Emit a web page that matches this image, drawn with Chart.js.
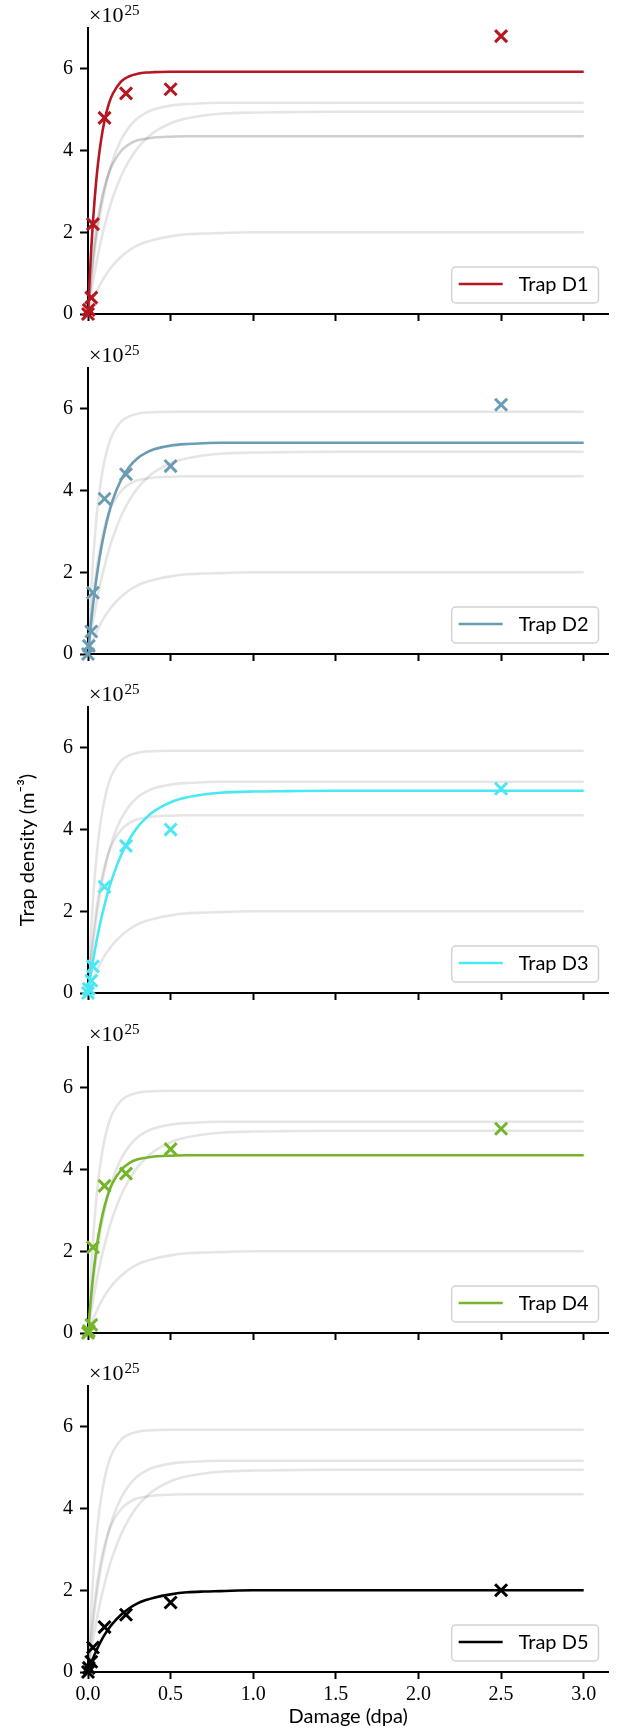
<!DOCTYPE html>
<html>
<head>
<meta charset="utf-8">
<script src="https://cdn.jsdelivr.net/npm/chart.js@4.4.0/dist/chart.umd.min.js"></script>
<style>
  html, body { margin: 0; padding: 0; background: #fff; }
  #figure { position: relative; width: 620px; height: 1736px; overflow: hidden; }
  .panneau { position: absolute; left: 0; }
</style>
</head>
<body>
<div id="figure"></div>
<script>
// Abscisses des courbes ajustées (dpa)
const damageFit = [0, 0.005, 0.01, 0.02, 0.03, 0.04, 0.05, 0.06, 0.08, 0.1, 0.125, 0.15, 0.2, 0.25, 0.3, 0.35, 0.4, 0.5, 0.6, 0.7, 0.8, 1.0, 1.2, 1.5, 2.0, 2.5, 3.0];

// Courbes ajustées (x1e25 m^-3)
const fitD1 = [0, 0.46, 0.88, 1.62, 2.26, 2.80, 3.27, 3.66, 4.28, 4.73, 5.13, 5.39, 5.69, 5.82, 5.88, 5.91, 5.92, 5.93, 5.93, 5.93, 5.93, 5.93, 5.93, 5.93, 5.93, 5.93, 5.93];
const fitD2 = [0, 0.22, 0.43, 0.83, 1.19, 1.52, 1.82, 2.10, 2.59, 3.00, 3.43, 3.77, 4.26, 4.58, 4.79, 4.92, 5.01, 5.10, 5.14, 5.16, 5.17, 5.17, 5.17, 5.17, 5.17, 5.17, 5.17];
const fitD3 = [0, 0.14, 0.27, 0.53, 0.78, 1.01, 1.23, 1.44, 1.82, 2.15, 2.53, 2.85, 3.37, 3.76, 4.06, 4.28, 4.45, 4.67, 4.79, 4.86, 4.90, 4.93, 4.94, 4.95, 4.95, 4.95, 4.95];
const fitD4 = [0, 0.26, 0.51, 0.96, 1.36, 1.71, 2.02, 2.30, 2.75, 3.10, 3.44, 3.68, 3.99, 4.16, 4.25, 4.29, 4.32, 4.34, 4.35, 4.35, 4.35, 4.35, 4.35, 4.35, 4.35, 4.35, 4.35];
const fitD5 = [0, 0.06, 0.12, 0.23, 0.33, 0.43, 0.52, 0.61, 0.77, 0.91, 1.06, 1.19, 1.40, 1.56, 1.68, 1.76, 1.82, 1.90, 1.95, 1.97, 1.98, 2.0, 2.0, 2.0, 2.0, 2.0, 2.0];

// Mesures expérimentales
const damageExp = [0, 0.005, 0.02, 0.03, 0.1, 0.23, 0.5, 2.5];
const expD1 = [0, 0.1, 0.4, 2.2, 4.8, 5.4, 5.5, 6.8];
const expD2 = [0, 0.2, 0.55, 1.5, 3.8, 4.4, 4.6, 6.1];
const expD3 = [0, 0.1, 0.3, 0.65, 2.6, 3.6, 4.0, 5.0];
const expD4 = [0, 0.05, 0.2, 2.1, 3.6, 3.9, 4.5, 5.0];
const expD5 = [0, 0.1, 0.25, 0.6, 1.1, 1.4, 1.7, 2.0];

const trapNames = ['Trap D1', 'Trap D2', 'Trap D3', 'Trap D4', 'Trap D5'];
const damageTicks = [0, 0.5, 1.0, 1.5, 2.0, 2.5, 3.0];
const densityTicks = [0, 2, 4, 6];

const fitSeries = [fitD1, fitD2, fitD3, fitD4, fitD5];
const expSeries = [expD1, expD2, expD3, expD4, expD5];

// Style
const couleurs = ['#b5161f', '#6a9db3', '#4ae8f2', '#75b52b', '#000000'];
const gris = 'rgba(0, 0, 0, 0.1)';
const serif = '"Liberation Serif", "DejaVu Serif", serif';
const sans = 'Lato, "DejaVu Sans", sans-serif';
const hauts = [0, 340, 679, 1019, 1358];

function points(xs, ys) {
  return xs.map((x, i) => ({ x: x, y: ys[i] }));
}

// Boîte de légende en bas à droite
const legendeBoite = {
  id: 'legendeBoite',
  afterDraw(chart, args, opts) {
    const { ctx, chartArea } = chart;
    ctx.save();
    ctx.font = '20px ' + sans;
    const tw = ctx.measureText(opts.text).width;
    const w = 7 + 44 + 16 + tw + 10, h = 36, r = 4;
    const x = chartArea.right - 10 - w, y = chartArea.bottom - 11 - h;
    ctx.beginPath();
    ctx.moveTo(x + r, y);
    ctx.lineTo(x + w - r, y);
    ctx.arcTo(x + w, y, x + w, y + r, r);
    ctx.lineTo(x + w, y + h - r);
    ctx.arcTo(x + w, y + h, x + w - r, y + h, r);
    ctx.lineTo(x + r, y + h);
    ctx.arcTo(x, y + h, x, y + h - r, r);
    ctx.lineTo(x, y + r);
    ctx.arcTo(x, y, x + r, y, r);
    ctx.closePath();
    ctx.fillStyle = 'rgba(255,255,255,0.8)';
    ctx.fill();
    ctx.lineWidth = 1.5;
    ctx.strokeStyle = '#d2d2d2';
    ctx.stroke();
    ctx.beginPath();
    ctx.moveTo(x + 7, y + h / 2 - 1);
    ctx.lineTo(x + 51, y + h / 2 - 1);
    ctx.strokeStyle = opts.color;
    ctx.lineWidth = 2.6;
    ctx.stroke();
    ctx.fillStyle = '#000';
    ctx.textBaseline = 'middle';
    ctx.fillText(opts.text, x + 67, y + h / 2);
    ctx.restore();
  }
};

// Facteur d'échelle au-dessus de l'axe y
const exposant = {
  id: 'exposant',
  afterDraw(chart) {
    const { ctx, chartArea } = chart;
    ctx.save();
    ctx.fillStyle = '#000';
    ctx.textBaseline = 'alphabetic';
    ctx.font = '22px ' + serif;
    ctx.fillText('×10', chartArea.left + 1, chartArea.top - 6);
    const w = ctx.measureText('×10').width;
    ctx.font = '15px ' + serif;
    ctx.fillText('25', chartArea.left + 2 + w, chartArea.top - 13);
    ctx.restore();
  }
};

function creerPanneau(k) {
  const dernier = k === 4;
  const hauteur = dernier ? 378 : 340;
  const canvas = document.createElement('canvas');
  canvas.className = 'panneau';
  canvas.width = 620;
  canvas.height = hauteur;
  canvas.style.top = hauts[k] + 'px';
  document.getElementById('figure').appendChild(canvas);

  const couleur = couleurs[k];
  const datasets = [];

  // Mesures (croix)
  datasets.push({
    data: points(damageExp, expSeries[k]),
    showLine: false,
    pointStyle: 'crossRot',
    pointRadius: 8.5,
    pointBorderWidth: 3,
    borderColor: couleur,
    backgroundColor: couleur,
    clip: false
  });

  // Ajustement du piège courant
  datasets.push({
    data: points(damageFit, fitSeries[k]),
    showLine: true,
    borderColor: couleur,
    borderWidth: 2.6,
    pointRadius: 0,
    cubicInterpolationMode: 'monotone'
  });

  // Autres pièges en gris
  fitSeries.forEach((serie, j) => {
    if (j === k) return;
    const n = (k === 0 && j === 3) ? 2 : 1;
    for (let c = 0; c < n; c++) {
      datasets.push({
        data: points(damageFit, serie),
        showLine: true,
        borderColor: gris,
        borderWidth: 2.6,
        pointRadius: 0,
        cubicInterpolationMode: 'monotone'
      });
    }
  });

  new Chart(canvas.getContext('2d'), {
    type: 'scatter',
    data: { datasets: datasets },
    options: {
      responsive: false,
      animation: false,
      events: [],
      layout: { padding: { top: 28, right: 8, left: 0, bottom: 0 } },
      plugins: {
        legend: { display: false },
        tooltip: { enabled: false },
        legendeBoite: { text: trapNames[k], color: couleur }
      },
      scales: {
        x: {
          type: 'linear',
          min: 0,
          max: 3.15,
          afterBuildTicks: s => { s.ticks = damageTicks.map(v => ({ value: v })); },
          afterFit: s => { s.height = hauteur - 314; },
          grid: { display: true, drawOnChartArea: false, drawTicks: true, tickLength: 7, tickWidth: 2, tickColor: '#000' },
          border: { display: true, color: '#000', width: 2 },
          ticks: {
            display: dernier,
            font: { family: serif, size: 20 },
            color: '#000',
            padding: 4,
            maxRotation: 0,
            callback: v => Number(v).toFixed(1)
          },
          title: {
            display: dernier,
            text: 'Damage (dpa)',
            font: { family: sans, size: 20 },
            color: '#000',
            padding: { top: 0, bottom: 7 }
          }
        },
        y: {
          min: 0,
          max: 7,
          afterBuildTicks: s => { s.ticks = densityTicks.map(v => ({ value: v })); },
          afterFit: s => { s.width = 88; },
          grid: { display: true, drawOnChartArea: false, drawTicks: true, tickLength: 8, tickWidth: 2, tickColor: '#000' },
          border: { display: true, color: '#000', width: 2 },
          ticks: {
            font: { family: serif, size: 20 },
            color: '#000',
            padding: 7,
            callback: v => String(v)
          },
          title: {
            display: k === 2,
            text: 'Trap density (m⁻³)',
            font: { family: sans, size: 20 },
            color: '#000',
            padding: { top: 16, bottom: 0 }
          }
        }
      }
    },
    plugins: [legendeBoite, exposant]
  });
}

for (let k = 0; k < 5; k++) creerPanneau(k);
</script>
</body>
</html>
